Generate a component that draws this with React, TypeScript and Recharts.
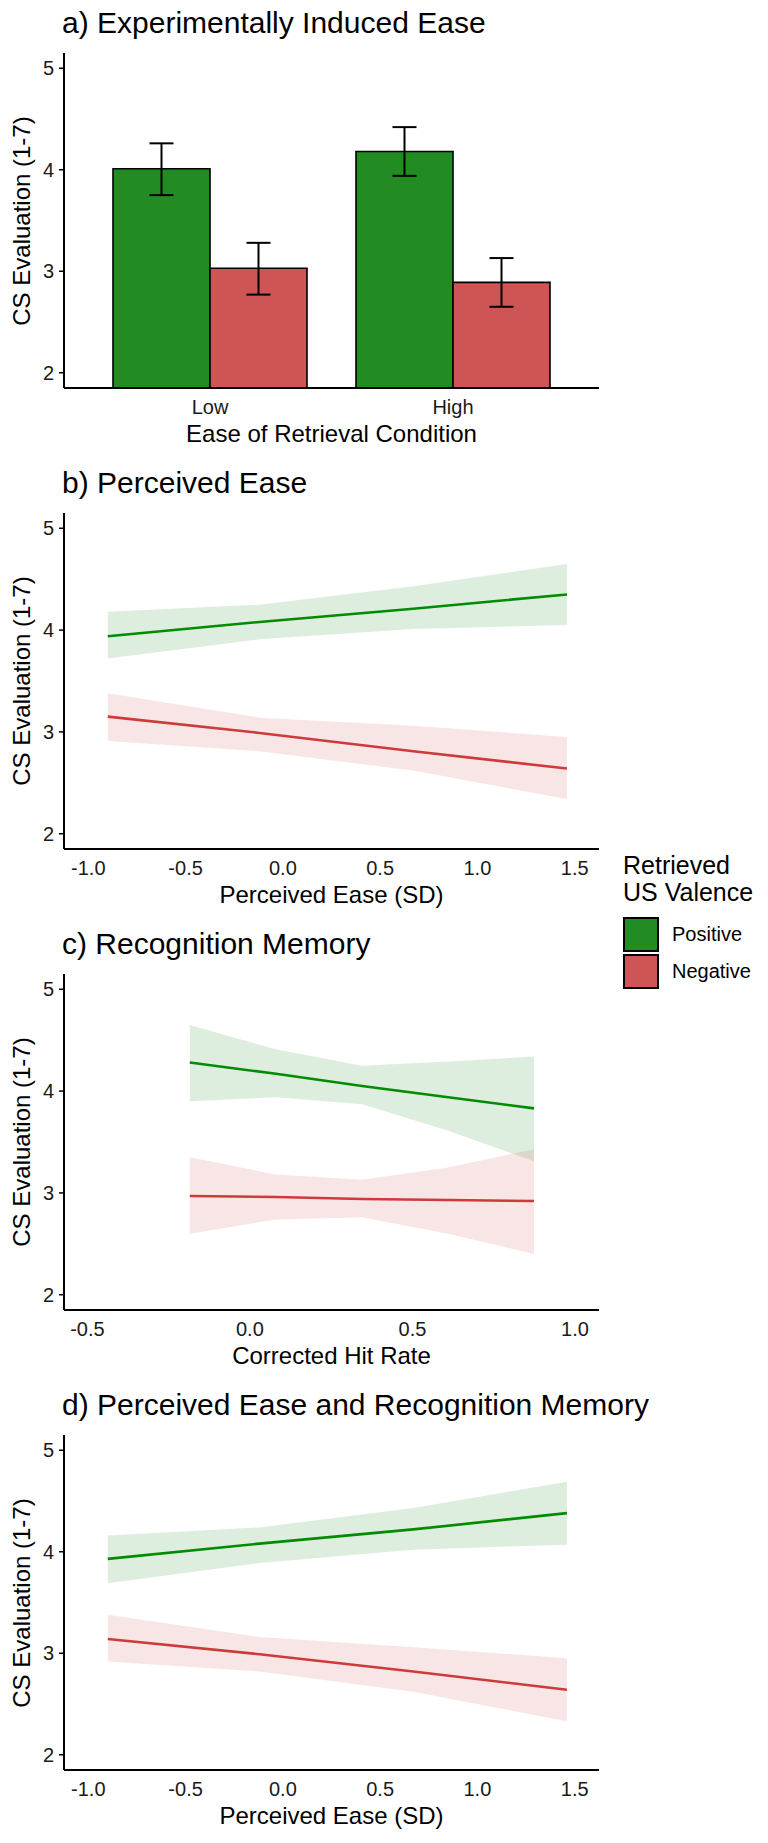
import { BarChart, Bar, ErrorBar, ComposedChart, Area, Line, XAxis, YAxis } from 'recharts';

// panel a: experimentally induced ease (means with error bars)
const conditions = ['Low', 'High'];
const posMean = [4.01, 4.18];
const posLow = [3.75, 3.94];
const posHigh = [4.26, 4.42];
const negMean = [3.03, 2.89];
const negLow = [2.77, 2.65];
const negHigh = [3.28, 3.13];

// panel b: perceived ease
const easeX = [-0.9, -0.12, 0.67, 1.46];
const easePos = [3.94, 4.08, 4.21, 4.35];
const easePosLo = [3.72, 3.91, 4.01, 4.05];
const easePosHi = [4.18, 4.25, 4.43, 4.65];
const easeNeg = [3.15, 2.99, 2.81, 2.64];
const easeNegLo = [2.91, 2.81, 2.62, 2.34];
const easeNegHi = [3.38, 3.14, 3.06, 2.95];

// panel c: recognition memory
const hitX = [-0.185, 0.08, 0.345, 0.61, 0.874];
const hitPos = [4.28, 4.17, 4.05, 3.94, 3.83];
const hitPosLo = [3.9, 3.94, 3.87, 3.61, 3.31];
const hitPosHi = [4.65, 4.41, 4.25, 4.29, 4.34];
const hitNeg = [2.97, 2.96, 2.94, 2.93, 2.92];
const hitNegLo = [2.6, 2.74, 2.76, 2.6, 2.4];
const hitNegHi = [3.35, 3.18, 3.13, 3.25, 3.43];

// panel d: perceived ease and recognition memory
const bothX = [-0.9, -0.12, 0.67, 1.46];
const bothPos = [3.93, 4.08, 4.22, 4.38];
const bothPosLo = [3.69, 3.89, 4.02, 4.07];
const bothPosHi = [4.16, 4.24, 4.43, 4.69];
const bothNeg = [3.14, 2.99, 2.82, 2.64];
const bothNegLo = [2.92, 2.82, 2.62, 2.33];
const bothNegHi = [3.38, 3.16, 3.06, 2.95];

const yTicks = [2, 3, 4, 5];
const easeTicks = [-1, -0.5, 0, 0.5, 1, 1.5];
const hitTicks = [-0.5, 0, 0.5, 1];
const legendItems = [
  { label: 'Positive', fill: '#228B22' },
  { label: 'Negative', fill: '#CD5555' },
];

const FONT = '"Liberation Sans", Arial, sans-serif';
const GREEN = '#228B22';
const RED = '#CD5555';
const GREEN_LINE = '#008B00';
const RED_LINE = '#CD3A3A';
const Y_DOMAIN = [1.85, 5.15];

const barRows = conditions.map((cond, i) => ({
  cond,
  pos: posMean[i],
  posErr: [posMean[i] - posLow[i], posHigh[i] - posMean[i]],
  neg: negMean[i],
  negErr: [negMean[i] - negLow[i], negHigh[i] - negMean[i]],
}));

const toRows = (xs: number[], pos: number[], posLo: number[], posHi: number[], neg: number[], negLo: number[], negHi: number[]) =>
  xs.map((x, i) => ({
    x,
    pos: pos[i],
    posBand: [posLo[i], posHi[i]],
    neg: neg[i],
    negBand: [negLo[i], negHi[i]],
  }));

const easeRows = toRows(easeX, easePos, easePosLo, easePosHi, easeNeg, easeNegLo, easeNegHi);
const hitRows = toRows(hitX, hitPos, hitPosLo, hitPosHi, hitNeg, hitNegLo, hitNegHi);
const bothRows = toRows(bothX, bothPos, bothPosLo, bothPosHi, bothNeg, bothNegLo, bothNegHi);

const axisLine = { stroke: '#000', strokeWidth: 2 };
const tickStyle = { fontSize: 20, fill: '#1a1a1a', fontFamily: FONT };

const yAxis = (
  <YAxis
    width={64}
    domain={Y_DOMAIN}
    ticks={yTicks}
    allowDataOverflow
    axisLine={axisLine}
    tickLine={{ stroke: '#000', strokeWidth: 1.5 }}
    tickSize={5}
    tickMargin={5}
    tick={tickStyle}
  />
);

const fmt = (v: number) => v.toFixed(1);

const PanelText = ({ top, height, title, xLabel }: { top: number; height: number; title: string; xLabel: string }) => (
  <>
    <div style={{ position: 'absolute', left: 62, top: top - 46, fontSize: 30, lineHeight: '32px', whiteSpace: 'nowrap' }}>
      {title}
    </div>
    <div
      style={{
        position: 'absolute',
        left: 22 - 170,
        top: top + height / 2 - 15,
        width: 340,
        height: 30,
        lineHeight: '30px',
        fontSize: 24,
        textAlign: 'center',
        transform: 'rotate(-90deg)',
      }}
    >
      CS Evaluation (1-7)
    </div>
    <div
      style={{
        position: 'absolute',
        left: 64,
        width: 535,
        top: top + height + 46 - 15,
        lineHeight: '30px',
        fontSize: 24,
        textAlign: 'center',
      }}
    >
      {xLabel}
    </div>
  </>
);

const EffectPanel = ({ top, height, rows, domain, ticks }: any) => (
  <div style={{ position: 'absolute', left: 0, top }}>
    <ComposedChart width={768} height={height + 70} data={rows} margin={{ top: 0, right: 169, bottom: 0, left: 0 }}>
      <XAxis
        type="number"
        dataKey="x"
        domain={domain}
        ticks={ticks}
        allowDataOverflow
        tickFormatter={fmt}
        axisLine={axisLine}
        tickLine={false}
        tickSize={6}
        tickMargin={6}
        height={70}
        tick={tickStyle}
      />
      {yAxis}
      <Area type="linear" dataKey="posBand" stroke="none" fill={GREEN} fillOpacity={0.15} isAnimationActive={false} />
      <Area type="linear" dataKey="negBand" stroke="none" fill={RED} fillOpacity={0.15} isAnimationActive={false} />
      <Line type="linear" dataKey="pos" stroke={GREEN_LINE} strokeWidth={2.6} dot={false} isAnimationActive={false} />
      <Line type="linear" dataKey="neg" stroke={RED_LINE} strokeWidth={2.6} dot={false} isAnimationActive={false} />
    </ComposedChart>
  </div>
);

export default function App() {
  return (
    <div style={{ position: 'absolute', left: 0, top: 0, width: 768, height: 1843, background: '#fff', fontFamily: FONT, color: '#000' }}>
      {/* a) bars */}
      <PanelText top={53} height={335} title="a) Experimentally Induced Ease" xLabel="Ease of Retrieval Condition" />
      <div style={{ position: 'absolute', left: 0, top: 53 }}>
        <BarChart
          width={768}
          height={335 + 70}
          data={barRows}
          margin={{ top: 0, right: 169, bottom: 0, left: 0 }}
          barCategoryGap={24.5}
          barGap={0}
        >
          <XAxis
            dataKey="cond"
            padding={{ left: 24.5, right: 24.5 }}
            axisLine={axisLine}
            tickLine={false}
            tickSize={6}
            tickMargin={6}
            height={70}
            tick={tickStyle}
          />
          {yAxis}
          <Bar dataKey="pos" fill={GREEN} stroke="#000" strokeWidth={1.6} isAnimationActive={false}>
            <ErrorBar dataKey="posErr" width={12} stroke="#000" strokeWidth={2} direction="y" />
          </Bar>
          <Bar dataKey="neg" fill={RED} stroke="#000" strokeWidth={1.6} isAnimationActive={false}>
            <ErrorBar dataKey="negErr" width={12} stroke="#000" strokeWidth={2} direction="y" />
          </Bar>
        </BarChart>
      </div>

      {/* b) perceived ease */}
      <PanelText top={513} height={336} title="b) Perceived Ease" xLabel="Perceived Ease (SD)" />
      <EffectPanel top={513} height={336} rows={easeRows} domain={[-1.125, 1.625]} ticks={easeTicks} />

      {/* legend */}
      <div style={{ position: 'absolute', left: 623, top: 852, fontSize: 25, lineHeight: '27px' }}>
        Retrieved
        <br />
        US Valence
      </div>
      {legendItems.map((item, i) => (
        <div key={item.label} style={{ position: 'absolute', left: 623, top: 917 + i * 37, display: 'flex', alignItems: 'center' }}>
          <div style={{ width: 32, height: 31, background: item.fill, border: '2px solid #000' }} />
          <span style={{ marginLeft: 13, fontSize: 20 }}>{item.label}</span>
        </div>
      ))}

      {/* c) recognition memory */}
      <PanelText top={974} height={336} title="c) Recognition Memory" xLabel="Corrected Hit Rate" />
      <EffectPanel top={974} height={336} rows={hitRows} domain={[-0.572, 1.074]} ticks={hitTicks} />

      {/* d) both */}
      <PanelText top={1435} height={335} title="d) Perceived Ease and Recognition Memory" xLabel="Perceived Ease (SD)" />
      <EffectPanel top={1435} height={335} rows={bothRows} domain={[-1.125, 1.625]} ticks={easeTicks} />
    </div>
  );
}
